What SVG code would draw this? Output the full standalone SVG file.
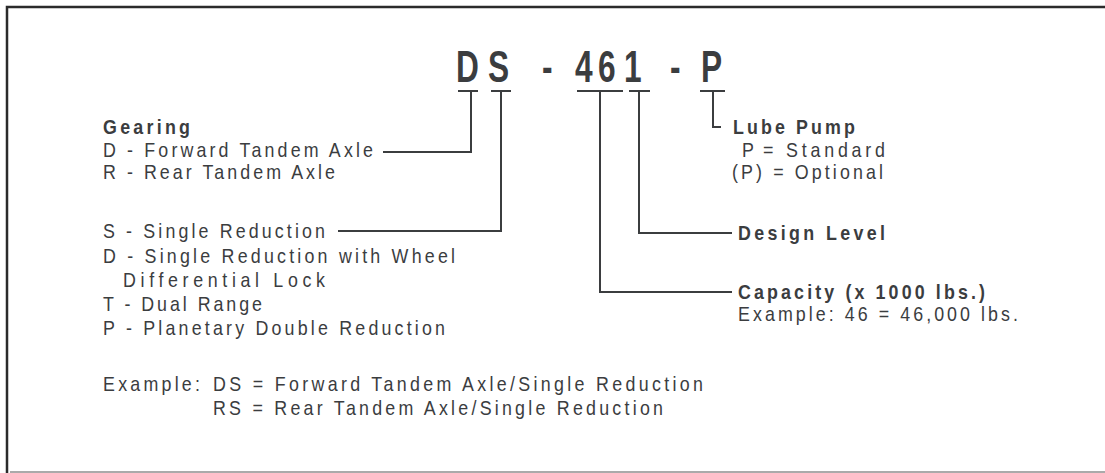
<svg xmlns="http://www.w3.org/2000/svg" width="1105" height="473" viewBox="0 0 1105 473">
<style>
.t{font-family:"Liberation Sans",Arial,sans-serif;font-size:21px;fill:#3b3d3f}
.b{font-weight:bold}
.title{font-family:"Liberation Sans",Arial,sans-serif;font-size:44px;font-weight:bold;fill:#3b3d3f}
.c{fill:none;stroke:#3b3d3f;stroke-width:2}
</style>
<rect width="1105" height="473" fill="#ffffff"/>
<g id="frame">
<path d="M7 473 V7 H1105" fill="none" stroke="#2b2b2b" stroke-width="2.5"/>
<line x1="10" y1="472" x2="1105" y2="472" stroke="#aaaaaa" stroke-width="2"/>
</g>
<g id="title">
<text class="title" transform="scale(0.72,1)" x="633.3 677.8 713.9 752.8 772.2 798.6 830.6 866.7 902.8 930.6 948.6 973.6" y="82">DS - 461 - P</text>
</g>
<g id="connectors" class="c">
<path d="M458 91 H478"/>
<path d="M491 91 H511"/>
<path d="M577 91 H623"/>
<path d="M629 91 H650"/>
<path d="M700 91 H725"/>
<path d="M471 91 V152 H383"/>
<path d="M501 91 V231 H338"/>
<path d="M600 91 V292 H732"/>
<path d="M639 91 V233 H732"/>
<path d="M713 91 V127 H721"/>
</g>
<g id="gearing">
<text class="t b" transform="translate(103,134) scale(0.85,1)" textLength="102.4" lengthAdjust="spacing">Gearing</text>
<text class="t" transform="translate(103,157) scale(0.85,1)" textLength="317.6" lengthAdjust="spacing">D - Forward Tandem Axle</text>
<text class="t" transform="translate(103,179) scale(0.85,1)" textLength="272.9" lengthAdjust="spacing">R - Rear Tandem Axle</text>
</g>
<g id="reduction">
<text class="t" transform="translate(103,238) scale(0.85,1)" textLength="261.2" lengthAdjust="spacing">S - Single Reduction</text>
<text class="t" transform="translate(103,263) scale(0.85,1)" textLength="414.1" lengthAdjust="spacing">D - Single Reduction with Wheel</text>
<text class="t" transform="translate(123,287) scale(0.85,1)" textLength="237.6" lengthAdjust="spacing">Differential Lock</text>
<text class="t" transform="translate(103,311) scale(0.85,1)" textLength="187.1" lengthAdjust="spacing">T - Dual Range</text>
<text class="t" transform="translate(103,335) scale(0.85,1)" textLength="402.4" lengthAdjust="spacing">P - Planetary Double Reduction</text>
</g>
<g id="example">
<text class="t" transform="translate(103,391) scale(0.85,1)" textLength="114.1" lengthAdjust="spacing">Example:</text>
<text class="t" transform="translate(213,391) scale(0.85,1)" textLength="576.5" lengthAdjust="spacing">DS = Forward Tandem Axle/Single Reduction</text>
<text class="t" transform="translate(213,415) scale(0.85,1)" textLength="529.4" lengthAdjust="spacing">RS = Rear Tandem Axle/Single Reduction</text>
</g>
<g id="lube-pump">
<text class="t b" transform="translate(733,134) scale(0.85,1)" textLength="143.5" lengthAdjust="spacing">Lube Pump</text>
<text class="t" transform="translate(742,157) scale(0.85,1)">P</text>
<text class="t" transform="translate(763,157) scale(0.85,1)" textLength="143.5" lengthAdjust="spacing">= Standard</text>
<text class="t" transform="translate(732,179) scale(0.85,1)" textLength="177.6" lengthAdjust="spacing">(P) = Optional</text>
</g>
<g id="design-level">
<text class="t b" transform="translate(738,240) scale(0.85,1)" textLength="172.9" lengthAdjust="spacing">Design Level</text>
</g>
<g id="capacity">
<text class="t b" transform="translate(738,299) scale(0.85,1)" textLength="290.6" lengthAdjust="spacing">Capacity (x 1000 lbs.)</text>
<text class="t" transform="translate(738,321) scale(0.85,1)" textLength="329.4" lengthAdjust="spacing">Example: 46 = 46,000 lbs.</text>
</g>
</svg>
